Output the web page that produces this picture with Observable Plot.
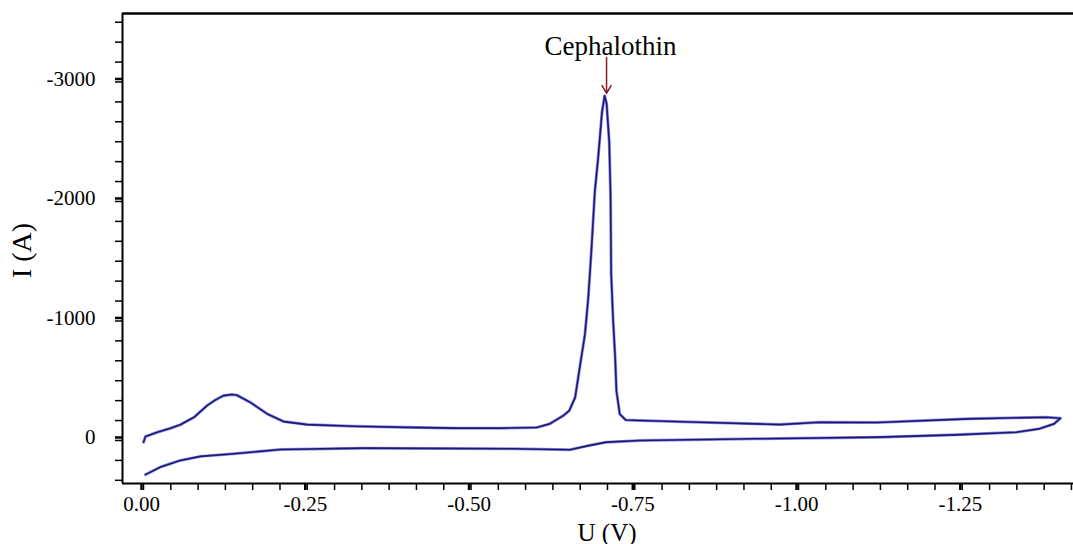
<!DOCTYPE html>
<html>
<head>
<meta charset="utf-8">
<script src="https://cdn.jsdelivr.net/npm/d3@7"></script>
<script src="https://cdn.jsdelivr.net/npm/@observablehq/plot@0.6"></script>
<style>
  html, body { margin: 0; padding: 0; background: #fff; }
  #chart svg { display: block; }
</style>
</head>
<body>
<div id="chart"></div>
<script>
// Forward sweep (U from 0 to -1.4 V)
const forwardU = [0.000, -0.003, -0.021, -0.040, -0.056, -0.077, -0.097, -0.110, -0.122, -0.135, -0.143, -0.163, -0.189, -0.214, -0.250, -0.320, -0.400, -0.478, -0.544, -0.600, -0.620, -0.641, -0.650, -0.659, -0.666, -0.674, -0.679, -0.684, -0.689, -0.694, -0.700, -0.704, -0.707, -0.711, -0.713, -0.714, -0.717, -0.720, -0.722, -0.727, -0.736, -0.758, -0.849, -0.971, -1.032, -1.120, -1.260, -1.378, -1.400];
const forwardI = [14, -33, -69, -100, -131, -194, -292, -340, -375, -385, -378, -319, -222, -158, -133, -119, -110, -103, -103, -108, -139, -208, -250, -361, -611, -892, -1194, -1611, -2083, -2361, -2750, -2885, -2819, -2500, -2056, -1389, -1000, -700, -417, -222, -172, -167, -153, -133, -153, -150, -181, -195, -186];
// Reverse sweep (U from -1.4 back to 0 V)
const reverseU = [-1.400, -1.390, -1.367, -1.332, -1.240, -1.123, -0.935, -0.758, -0.707, -0.676, -0.651, -0.565, -0.336, -0.209, -0.138, -0.087, -0.056, -0.026, -0.003];
const reverseI = [-186, -139, -97, -69, -47, -28, -14, 0, 14, 47, 78, 69, 64, 75, 111, 133, 167, 222, 286];

const xMajor = [0, -0.25, -0.5, -0.75, -1.0, -1.25];
const xMinor = d3.range(0, 35).map(i => -i * 0.25 / 6);
const yMajor = [0, -1000, -2000, -3000];
const yMinor = d3.range(-2, 22).map(i => -i * 1000 / 6);
const xDomain = [0.0321, -1.4198];
const yDomain = [360, -3573];

const annotationLabel = ["Cephalothin"];
const annotationU = [-0.713];
const annotationTextI = [-3300];
const arrowU = [-0.7069];
const arrowFromI = [-3205];
const arrowToI = [-2905];

const curve = [
  ...forwardU.map((u, i) => ({U: u, I: forwardI[i]})),
  ...reverseU.map((u, i) => ({U: u, I: reverseI[i]}))
];

const serif = "'Liberation Serif', 'DejaVu Serif', 'Times New Roman', serif";

const chart = Plot.plot({
  width: 1073,
  height: 544,
  marginLeft: 122,
  marginRight: 0,
  marginTop: 13,
  marginBottom: 61,
  style: {fontFamily: serif, background: "#fff", color: "#000"},
  x: {domain: xDomain},
  y: {domain: yDomain},
  marks: [
    // minor ticks
    Plot.axisX({ticks: xMinor, tickSize: 7, tickFormat: () => "", strokeWidth: 1.5, label: null}),
    Plot.axisY({ticks: yMinor, tickSize: 7, tickFormat: () => "", strokeWidth: 1.5, label: null}),
    // major ticks with labels
    Plot.axisX({ticks: xMajor, tickSize: 7, tickPadding: 6, strokeWidth: 2.5, fontSize: 21, dx: -2, tickFormat: d => d.toFixed(2), label: null}),
    Plot.axisY({ticks: yMajor, tickSize: 7, tickPadding: 20, strokeWidth: 2.5, fontSize: 21, dy: -3, tickFormat: d => String(d), label: null}),
    // axis lines
    Plot.ruleX([xDomain[0]], {stroke: "#000", strokeWidth: 2}),
    Plot.ruleY([yDomain[0]], {stroke: "#000", strokeWidth: 2}),
    Plot.ruleY([yDomain[1]], {stroke: "#000", strokeWidth: 2.5}),
    // curve
    Plot.line(curve, {x: "U", y: "I", stroke: "#8e8cf2", strokeWidth: 3}),
    Plot.line(curve, {x: "U", y: "I", stroke: "#1c1a6c", strokeWidth: 1.6}),
    // annotation
    Plot.arrow(arrowU, {x1: d => d, x2: d => d, y1: () => arrowFromI[0], y2: () => arrowToI[0], stroke: "#8b1a22", strokeWidth: 1.5, headLength: 9}),
    Plot.text(annotationLabel, {x: () => annotationU[0], y: () => annotationTextI[0], text: d => d, fontSize: 27, fill: "#000"}),
    // axis titles
    Plot.text(["U (V)"], {frameAnchor: "bottom", text: d => d, textAnchor: "middle", dx: 9, dy: 49, lineAnchor: "middle", fontSize: 25}),
    Plot.text(["I (A)"], {frameAnchor: "left", text: d => d, textAnchor: "middle", lineAnchor: "middle", dx: -100, dy: 2, rotate: -90, fontSize: 28})
  ]
});
document.getElementById("chart").appendChild(chart);
</script>
</body>
</html>
